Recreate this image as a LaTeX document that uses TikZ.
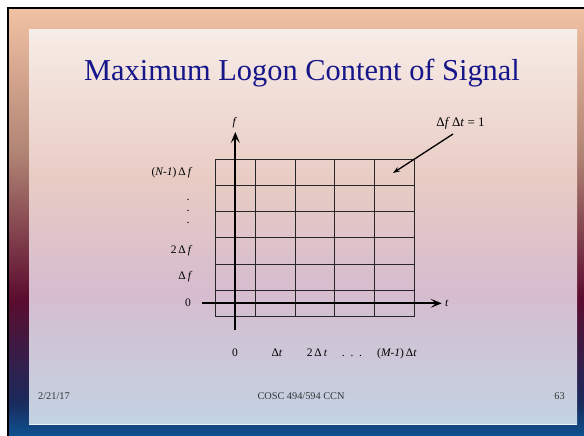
\documentclass[tikz,border=0pt]{standalone}
\usepackage{fontspec}
\setmainfont{Liberation Serif}
\usetikzlibrary{arrows.meta,calc}

\definecolor{titleblue}{HTML}{16168A}
\definecolor{ftop}{HTML}{F2C2A4}
\definecolor{fbrown}{HTML}{B08474}
\definecolor{fred}{HTML}{5C0C2E}
\definecolor{fnavy}{HTML}{1A2A5C}
\definecolor{fblue}{HTML}{0E5290}
\definecolor{ptop}{HTML}{F7ECE6}
\definecolor{ppeach}{HTML}{E8CCC4}
\definecolor{plav}{HTML}{D6BCCE}
\definecolor{pbot}{HTML}{C2D3E3}

% stops kept inside 25bp..75bp, the part that \shade stretches over the path
\pgfdeclareverticalshading{frameshade}{100bp}{color(0bp)=(fblue); color(25bp)=(fblue);
  color(29bp)=(fnavy); color(41bp)=(fred); color(58bp)=(fbrown); color(75bp)=(ftop);
  color(100bp)=(ftop)}
\pgfdeclareverticalshading{panelshade}{100bp}{color(0bp)=(pbot); color(25bp)=(pbot);
  color(42bp)=(plav); color(56bp)=(ppeach); color(75bp)=(ptop); color(100bp)=(ptop)}

\begin{document}
\begin{tikzpicture}[
  x=1pt, y=-1pt,
  gridline/.style={line width=0.9pt, black!85},
  axis/.style={line width=1.7pt, -{Stealth[length=11pt, width=9pt, inset=5pt]}},
  ptr/.style={line width=1.3pt, -{Stealth[length=7pt, width=5pt]}},
  lbl/.style={font=\fontsize{11.5}{13}\selectfont, inner sep=0pt},
  ylbl/.style={lbl, anchor=east},
  xlbl/.style={lbl, anchor=base},
  foot/.style={font=\fontsize{10.3}{12}\selectfont, text=black!80, inner sep=0pt, anchor=base},
]
\useasboundingbox (0,0) rectangle (584,436);
% slide background
\fill[white] (0,0) rectangle (584,436);
\shade[shading=frameshade] (8,8) rectangle (584,436);
\draw[line width=2pt, black] (8,436) -- (8,8) -- (584,8);
\shade[shading=panelshade] (29,30) rectangle (577,424);
\draw[line width=0.6pt, white!70!pbot] (29,424) -- (577,424);

\node (title) [anchor=base, text=titleblue, inner sep=0pt,
  font=\fontsize{30.4}{36}\selectfont] at (302,81) {Maximum Logon Content of Signal};

% time-frequency grid
\foreach \i in {0,...,5}
  \draw[gridline] (215.7+39.7*\i,159) -- (215.7+39.7*\i,316.7);
\foreach \j in {0,...,6}
  \draw[gridline] (215.7,159+26.28*\j) -- (414.2,159+26.28*\j);

% axes
\coordinate (fbot) at (235.3,330);
\coordinate (ftip) at (235.3,132);
\coordinate (tleft) at (201.7,303.3);
\coordinate (ttip) at (441.7,303.3);
\draw[axis] (fbot) -- (ftip);
\draw[axis] (tleft) -- (ttip);
\node (flab) [lbl] at (235,123) {\textit{f}};
\node (tlab) [lbl, anchor=west] at (445,303.3) {\textit{t}};

% frequency labels
\node (fn)    [ylbl] at (192.5,172.2) {(\textit{N-1})\,Δ\,\textit{f}};
\node (vdots) [lbl, align=center, font=\fontsize{12}{11.5}\selectfont] at (188,211) {.\\.\\.};
\node (f2)    [ylbl] at (192.5,250.5) {2\,Δ\,\textit{f}};
\node (f1)    [ylbl] at (192.5,277) {Δ\,\textit{f}};
\node (f0)    [ylbl] at (191,303) {0};

% time labels
\node (t0) [xlbl] at (235,356) {0};
\node (t1) [xlbl] at (277,356) {Δ\textit{t}};
\node (t2) [xlbl] at (317,356) {2\,Δ\,\textit{t}};
\node (td) [xlbl] at (352,356) {.\ \ .\ \ .};
\node (tm) [xlbl] at (397,356) {(\textit{M-1})\,Δ\textit{t}};

% cell area note
\node (prod) [lbl, font=\fontsize{13}{15}\selectfont] at (460.5,123) {Δ\textit{f}\,Δ\textit{t} = 1};
\coordinate (tail) at (453,134);
\coordinate (cell) at (393,173);
\draw[ptr] (tail) -- (cell);

% footer
\node (date)  [foot, anchor=base west] at (38,399.5) {2/21/17};
\node (course) [foot] at (301,399.5) {COSC 494/594 CCN};
\node (page)  [foot] at (559.5,399.5) {63};
\end{tikzpicture}
\end{document}
